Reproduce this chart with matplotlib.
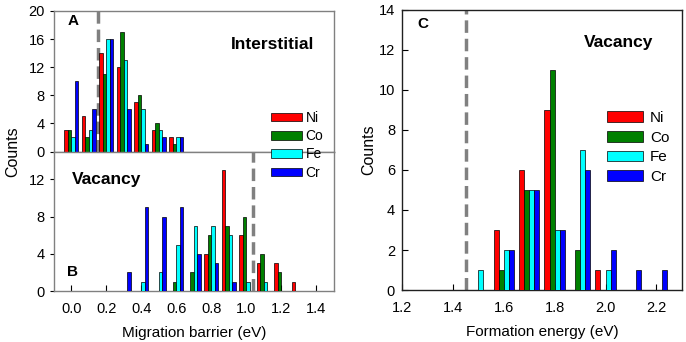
import numpy as np
import matplotlib.pyplot as plt

plt.rcParams['font.family'] = ['Liberation Sans', 'DejaVu Sans']

# ---- data ----
elements = ['Ni', 'Co', 'Fe', 'Cr']
colors = ['#FF0000', '#008000', '#00FFFF', '#0000FF']

# A: interstitial migration barriers
inter_bins = [0.0, 0.1, 0.2, 0.3, 0.4, 0.5, 0.6]
inter_ni = [3, 5, 14, 12, 7, 3, 2]
inter_co = [3, 2, 11, 17, 8, 4, 1]
inter_fe = [2, 3, 16, 13, 6, 3, 2]
inter_cr = [10, 6, 16, 6, 1, 2, 2]

# B: vacancy migration barriers
vac_bins = [0.3, 0.4, 0.5, 0.6, 0.7, 0.8, 0.9, 1.0, 1.1, 1.2, 1.3]
vac_ni = [0, 0, 0, 0, 0, 4, 13, 6, 3, 3, 1]
vac_co = [0, 0, 0, 1, 2, 6, 7, 8, 4, 2, 0]
vac_fe = [0, 1, 2, 5, 7, 7, 6, 1, 1, 0, 0]
vac_cr = [2, 9, 8, 9, 4, 3, 1, 0, 0, 0, 0]

# C: vacancy formation energies
form_bins = [1.5, 1.6, 1.7, 1.8, 1.9, 2.0, 2.1, 2.2]
form_ni = [0, 3, 6, 9, 0, 1, 0, 0]
form_co = [0, 1, 5, 11, 2, 0, 0, 0]
form_fe = [1, 2, 5, 3, 7, 1, 0, 0]
form_cr = [0, 2, 5, 3, 6, 2, 1, 1]

inter_ref = 0.15   # dashed reference lines
vac_ref = 1.04
form_ref = 1.45

bw = 0.02
offsets = [-0.03, -0.01, 0.01, 0.03]


def grouped(ax, bins, series):
    bars = []
    for vals, off, c in zip(series, offsets, colors):
        x = np.array(bins) + off
        v = np.array(vals, dtype=float)
        m = v > 0
        b = ax.bar(x[m], v[m], width=bw, color=c, edgecolor='black',
                   linewidth=0.5, zorder=3)
        bars.append(b)
    return bars


fig = plt.figure(figsize=(6.86, 3.42), dpi=100)
axA = fig.add_axes([0.0787, 0.557, 0.408, 0.411])
axB = fig.add_axes([0.0787, 0.149, 0.408, 0.408])
axC = fig.add_axes([0.586, 0.152, 0.408, 0.819])

grouped(axA, inter_bins, [inter_ni, inter_co, inter_fe, inter_cr])
handles = grouped(axB, vac_bins, [vac_ni, vac_co, vac_fe, vac_cr])
grouped(axC, form_bins, [form_ni, form_co, form_fe, form_cr])

dash = dict(color='#808080', lw=2.5, dashes=(3.6, 1.7), zorder=2)
axA.axvline(inter_ref, **dash)
axB.axvline(vac_ref, **dash)
axC.axvline(form_ref, **dash)

gray = '#808080'
for ax in (axA, axB):
    ax.set_xlim(-0.1, 1.5)
    for s in ax.spines.values():
        s.set_color(gray)
        s.set_linewidth(1.0)
    ax.tick_params(axis='y', direction='out', length=3, labelsize=10.5)
    ax.tick_params(axis='x', direction='in', length=4, labelsize=10.5, pad=8)

axA.set_ylim(0, 20)
axA.set_yticks([0, 4, 8, 12, 16, 20])
axA.set_xticks([])
axB.set_ylim(0, 15)
axB.set_yticks([0, 4, 8, 12])
axB.set_xticks([0.0, 0.2, 0.4, 0.6, 0.8, 1.0, 1.2, 1.4])
axB.xaxis.set_major_formatter(plt.FormatStrFormatter('%.1f'))
axB.set_xlabel('Migration barrier (eV)', fontsize=11, labelpad=7)
fig.text(0.018, 0.557, 'Counts', rotation=90, fontsize=11.5,
         ha='center', va='center')

axC.set_xlim(1.2, 2.3)
axC.set_ylim(0, 14)
axC.set_xticks([1.2, 1.4, 1.6, 1.8, 2.0, 2.2])
axC.set_yticks(range(0, 15, 2))
axC.xaxis.set_major_formatter(plt.FormatStrFormatter('%.1f'))
axC.tick_params(direction='in', length=4, labelsize=10.5)
axC.tick_params(axis='x', pad=8)
axC.tick_params(axis='y', pad=5)
for s in axC.spines.values():
    s.set_color('#202020')
    s.set_linewidth(1.0)
axC.set_xlabel('Formation energy (eV)', fontsize=11, labelpad=7)
axC.set_ylabel('Counts', fontsize=11.5, labelpad=2)

# panel annotations
axA.text(0.05, 0.93, 'A', transform=axA.transAxes, fontsize=11,
         fontweight='bold', va='center')
axA.text(0.78, 0.76, 'Interstitial', transform=axA.transAxes, fontsize=12.5,
         fontweight='bold', ha='center', va='center')
axB.text(0.065, 0.80, 'Vacancy', transform=axB.transAxes, fontsize=12.5,
         fontweight='bold', va='center')
axB.text(0.045, 0.135, 'B', transform=axB.transAxes, fontsize=11,
         fontweight='bold', va='center')
axC.text(0.055, 0.95, 'C', transform=axC.transAxes, fontsize=11,
         fontweight='bold', va='center')
axC.text(0.775, 0.885, 'Vacancy', transform=axC.transAxes, fontsize=12.5,
         fontweight='bold', ha='center', va='center')

fig.legend(handles, elements, loc='upper left', bbox_to_anchor=(0.395, 0.675),
           frameon=False, fontsize=10, handlelength=2.2, handleheight=0.55,
           handletextpad=0.3, labelspacing=0.3, borderpad=0, borderaxespad=0)
axC.legend(handles, elements, loc='upper left', bbox_to_anchor=(0.733, 0.64),
           frameon=False, fontsize=11, handlelength=2.35, handleheight=0.7,
           handletextpad=0.45, labelspacing=0.38, borderpad=0, borderaxespad=0)

fig.savefig('out.png', dpi=100)
